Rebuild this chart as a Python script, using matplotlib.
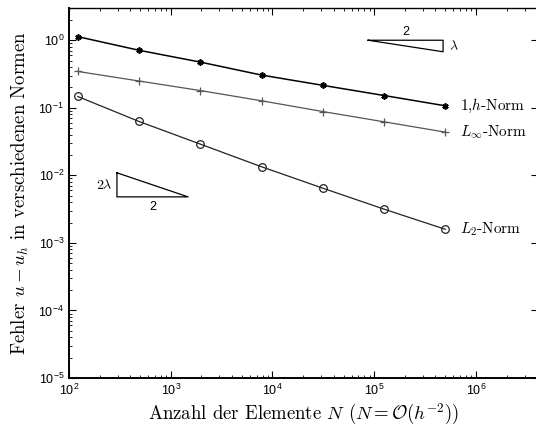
import matplotlib
matplotlib.use("Agg")
import matplotlib.pyplot as plt
import numpy as np

plt.rcParams['mathtext.fontset'] = 'cm'
plt.rcParams['font.family'] = ['Liberation Sans', 'DejaVu Sans']

N = [122, 488, 1950, 7800, 31200, 124800, 499200]
err_h1 = [1.13, 0.71, 0.475, 0.305, 0.215, 0.152, 0.107]
err_inf = [0.345, 0.249, 0.18, 0.127, 0.088, 0.062, 0.0436]
err_l2 = [0.147, 0.0627, 0.029, 0.0134, 0.00646, 0.00316, 0.00159]
labels = ['1,$h$-Norm', '$L_{\\infty}$-Norm', '$L_2$-Norm']

fig = plt.figure(figsize=(5.36, 4.30), dpi=100)
ax = fig.add_axes([69/536, 1-378/430, 469/536, 370/430])
ax.set_xscale('log')
ax.set_yscale('log')

ax.plot(N, err_h1, '-', color='black', lw=1.1, marker=(6, 2, 0), ms=4.5, mew=1.2)
ax.plot(N, err_inf, '-', color='#555555', lw=0.9, marker='+', ms=6, mew=0.9)
ax.plot(N, err_l2, '-', color='#222222', lw=0.9, marker='o', ms=5.5, mfc='none', mew=0.9)

serif = dict(family='cmr10', fontsize=11)
lx = 6.9e5
ax.text(lx, err_h1[-1], labels[0], va='center', ha='left', **serif)
ax.text(lx, err_inf[-1], labels[1], va='center', ha='left', **serif)
ax.text(lx, err_l2[-1], labels[2], va='center', ha='left', **serif)

# slope triangles
tx = [87000, 475000, 475000, 87000]
ty = [1.0, 1.0, 0.675, 1.0]
ax.plot(tx, ty, color='black', lw=0.9)
ax.text(np.sqrt(87000*475000), 1.07, '2', ha='center', va='bottom', fontsize=9)
ax.text(540000, np.sqrt(0.675), '$\\lambda$', ha='left', va='center', fontsize=10)

bx = [296, 296, 1480, 296]
by = [0.0109, 0.0048, 0.0048, 0.0109]
ax.plot(bx, by, color='black', lw=0.9)
ax.text(270, np.sqrt(0.0109*0.0048), '$2\\lambda$', ha='right', va='center', fontsize=10)
ax.text(np.sqrt(296*1480), 0.0042, '2', ha='center', va='top', fontsize=9)

ax.set_xlim(100, 4.07e6)
ax.set_ylim(1e-5, 3.0)
ax.set_xticks([1e2, 1e3, 1e4, 1e5, 1e6])
ax.set_yticks([1e-5, 1e-4, 1e-3, 1e-2, 1e-1, 1e0])
ax.tick_params(which='both', direction='in', top=True, right=True, labelsize=9)
ax.tick_params(which='major', length=5)
ax.tick_params(which='minor', length=2.5, right=False)
for s in ['left', 'bottom']:
    ax.spines[s].set_linewidth(1.4)
for s in ['top', 'right']:
    ax.spines[s].set_linewidth(1.0)

ax.set_xlabel('Anzahl der Elemente $N$ ($N = \\mathcal{O}(h^{-2})$)', family='cmr10', fontsize=13.5, labelpad=3)
ax.set_ylabel('Fehler $u - u_h$ in verschiedenen Normen', family='cmr10', fontsize=13.5, labelpad=5)

fig.savefig('out.png', dpi=100)
